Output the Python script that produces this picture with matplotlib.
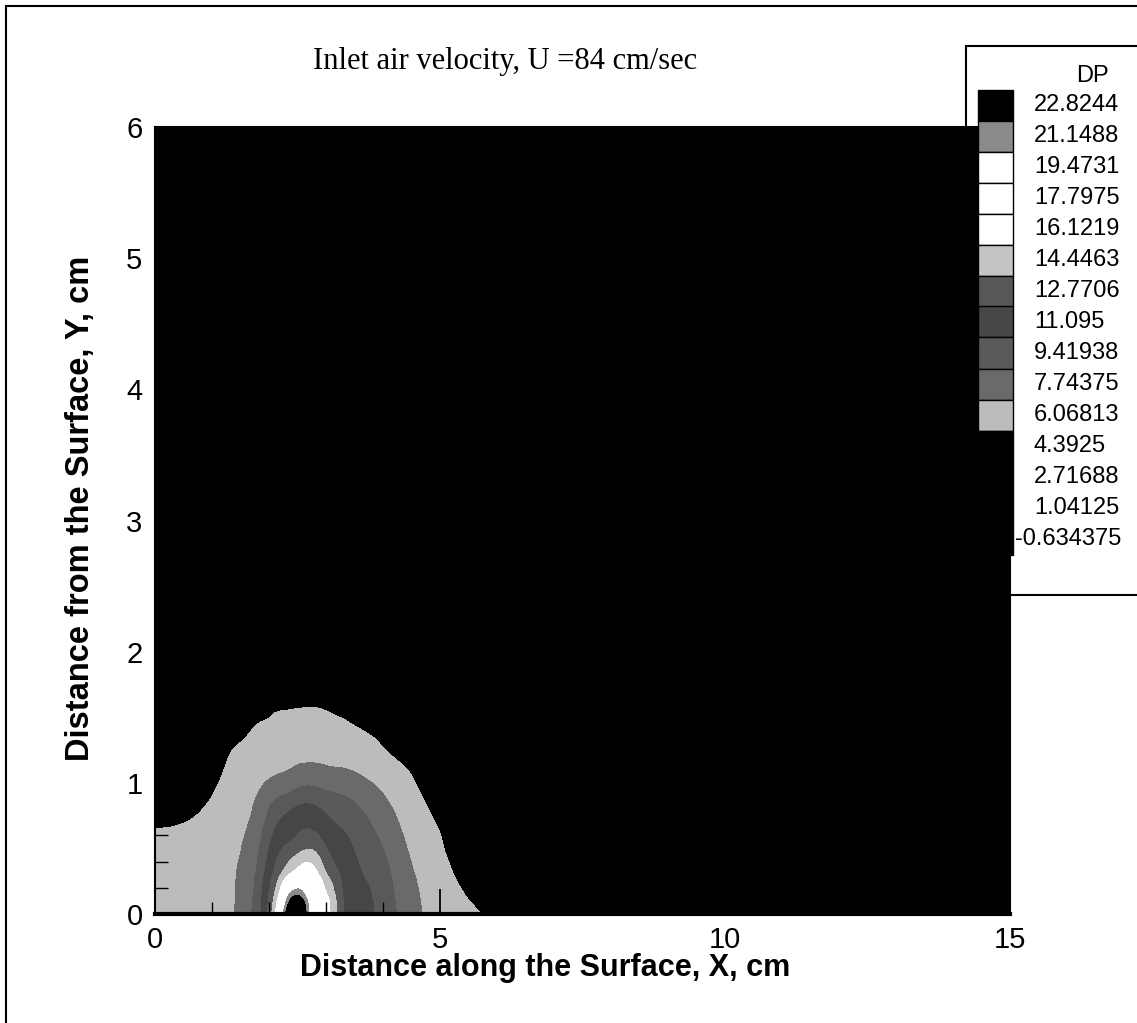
import numpy as np
import matplotlib
matplotlib.use("Agg")
import matplotlib.pyplot as plt
import matplotlib.tri as mtri
from matplotlib.patches import Rectangle
from matplotlib.lines import Line2D
from matplotlib.ticker import MultipleLocator

# ---------------- data ----------------
x_grid = [0.0, 0.5, 1.0, 1.25, 1.5, 1.75, 2.0, 2.25, 2.5, 2.75, 3.0, 3.25,
          3.5, 4.0, 4.5, 5.0, 5.5, 6.0, 8.0, 15.0]
y_grid = [0.0, 0.1, 0.2, 0.3, 0.4, 0.5, 0.6, 0.8, 1.0, 1.2, 1.4, 1.6, 1.8, 2.2, 6.0]

# DP values, one list per x column (bottom -> top, at y_grid)
dp_x0_00 = [5.6, 5.55, 5.45, 5.3, 5.1, 4.85, 4.55, 3.95, 3.5, 3.1, 2.7, 2.35, 2.05, 1.6, 0.0]
dp_x0_50 = [5.7, 5.65, 5.55, 5.4, 5.2, 4.95, 4.65, 4.1, 3.6, 3.2, 2.8, 2.45, 2.15, 1.7, 0.0]
dp_x1_00 = [5.8, 5.78, 5.75, 5.65, 5.5, 5.3, 5.1, 4.6, 4.1, 3.6, 3.2, 2.8, 2.45, 1.9, 0.0]
dp_x1_25 = [5.98, 5.95, 5.9, 5.85, 5.75, 5.6, 5.45, 5.1, 4.7, 4.25, 3.8, 3.3, 2.85, 2.2, 0.0]
dp_x1_50 = [6.3, 6.28, 6.25, 6.2, 6.12, 6.02, 5.9, 5.6, 5.2, 4.75, 4.1, 3.65, 3.15, 2.4, 0.0]
dp_x1_75 = [8.2, 8.0, 7.8, 7.55, 7.3, 7.0, 6.75, 6.2, 5.55, 5.0, 4.45, 3.85, 3.3, 2.5, 0.0]
dp_x2_00 = [11.5, 11.2, 10.8, 10.3, 9.8, 9.3, 8.8, 7.7, 6.2, 5.45, 4.65, 4.1, 3.5, 2.6, 0.0]
dp_x2_25 = [19.5, 17.5, 15.3, 13.2, 12.0, 11.1, 10.4, 8.9, 6.6, 5.6, 4.95, 4.2, 3.55, 2.65, 0.0]
dp_x2_50 = [26.0, 22.6, 19.0, 15.6, 13.6, 12.0, 11.1, 9.6, 7.2, 5.7, 5.0, 4.25, 3.6, 2.7, 0.0]
dp_x2_75 = [17.8, 17.3, 16.6, 15.6, 14.1, 12.6, 11.5, 9.7, 7.4, 5.8, 5.05, 4.3, 3.65, 2.75, 0.0]
dp_x3_00 = [15.3, 14.9, 14.1, 12.9, 11.9, 11.1, 10.4, 9.1, 7.1, 5.7, 4.95, 4.2, 3.6, 2.7, 0.0]
dp_x3_25 = [11.8, 11.6, 11.3, 11.0, 10.6, 10.2, 9.7, 8.6, 6.9, 5.6, 4.75, 4.05, 3.5, 2.6, 0.0]
dp_x3_50 = [10.4, 10.3, 10.1, 9.85, 9.6, 9.3, 8.9, 8.0, 6.6, 5.4, 4.5, 3.9, 3.35, 2.5, 0.0]
dp_x4_00 = [8.7, 8.6, 8.45, 8.25, 8.0, 7.7, 7.4, 6.6, 5.6, 4.6, 4.1, 3.6, 3.1, 2.35, 0.0]
dp_x4_50 = [6.7, 6.6, 6.45, 6.25, 6.0, 5.75, 5.5, 5.0, 4.5, 4.05, 3.65, 3.3, 2.9, 2.2, 0.0]
dp_x5_00 = [5.15, 5.07, 4.95, 4.8, 4.65, 4.5, 4.4, 4.05, 3.7, 3.4, 3.1, 2.8, 2.5, 2.0, 0.0]
dp_x5_50 = [4.55, 4.4, 4.25, 4.1, 3.95, 3.8, 3.65, 3.4, 3.15, 2.9, 2.7, 2.45, 2.25, 1.8, 0.0]
dp_x6_00 = [4.2, 4.1, 4.0, 3.9, 3.8, 3.65, 3.5, 3.25, 3.0, 2.8, 2.6, 2.4, 2.2, 1.75, 0.0]
dp_x8_00 = [3.2, 3.15, 3.1, 3.0, 2.95, 2.85, 2.8, 2.65, 2.5, 2.35, 2.2, 2.05, 1.9, 1.55, 0.0]
dp_x15_0 = [1.6, 1.6, 1.55, 1.5, 1.5, 1.45, 1.4, 1.35, 1.3, 1.2, 1.15, 1.1, 1.0, 0.8, -0.3]

dp_columns = [dp_x0_00, dp_x0_50, dp_x1_00, dp_x1_25, dp_x1_50, dp_x1_75,
              dp_x2_00, dp_x2_25, dp_x2_50, dp_x2_75, dp_x3_00, dp_x3_25,
              dp_x3_50, dp_x4_00, dp_x4_50, dp_x5_00, dp_x5_50, dp_x6_00,
              dp_x8_00, dp_x15_0]

# contour levels (legend values) and their labels
dp_levels = [-0.634375, 1.04125, 2.71688, 4.3925, 6.06813, 7.74375, 9.41938,
             11.095, 12.7706, 14.4463, 16.1219, 17.7975, 19.4731, 21.1488, 22.8244]
dp_labels = ["-0.634375", "1.04125", "2.71688", "4.3925", "6.06813", "7.74375",
             "9.41938", "11.095", "12.7706", "14.4463", "16.1219", "17.7975",
             "19.4731", "21.1488", "22.8244"]
# colour of each level (ascending), as shown by the legend patches
level_colors = ["#000000", "#000000", "#000000", "#000000", "#bcbcbc", "#6a6a6a",
                "#595959", "#464646", "#575757", "#c4c4c4", "#ffffff", "#ffffff",
                "#ffffff", "#8a8a8a", "#000000"]

x_ticks = [0, 5, 10, 15]
y_ticks = [0, 1, 2, 3, 4, 5, 6]

title_text = "Inlet air velocity, U =84 cm/sec"
x_label = "Distance along the Surface, X, cm"
y_label = "Distance from the Surface, Y, cm"
legend_title = "DP"

# ---------------- figure ----------------
W, H = 1137, 1023
fig = plt.figure(figsize=(W / 100, H / 100), dpi=100)
fig.patch.set_facecolor("white")


def fx(px):
    return px / W


def fy(py):
    return 1 - py / H


SANS = ["Liberation Sans", "DejaVu Sans"]

ax_l, ax_r, ax_t, ax_b = 155, 1010, 127, 914
ax = fig.add_axes([fx(ax_l), fy(ax_b), fx(ax_r) - fx(ax_l), fy(ax_t) - fy(ax_b)])

Z = np.array(dp_columns).T  # shape (ny, nx)
Xg, Yg = np.meshgrid(x_grid, y_grid)
tri = mtri.Triangulation(Xg.ravel(), Yg.ravel())
interp = mtri.CubicTriInterpolator(tri, Z.ravel(), kind="min_E")
refiner = mtri.UniformTriRefiner(tri)
tri_f, z_f = refiner.refine_field(Z.ravel(), triinterpolator=interp, subdiv=3)

# band between level i and i+1 takes the colour of level i+1;
# below the lowest and above the highest level -> black
fill_colors = [level_colors[0]] + level_colors[1:] + [level_colors[-1]]
cs = ax.tricontourf(tri_f, z_f, levels=dp_levels, colors=fill_colors, extend="both")
cs.set_edgecolor("face")
cs.set_linewidth(0.6)

ax.set_xlim(0, 15)
ax.set_ylim(0, 6)
ax.set_facecolor("black")
ax.set_xticks(x_ticks)
ax.set_yticks(y_ticks)
ax.xaxis.set_minor_locator(MultipleLocator(1))
ax.yaxis.set_minor_locator(MultipleLocator(0.2))
ax.tick_params(which="major", direction="in", length=18, width=1.3, color="black",
               labelsize=21, pad=9)
ax.tick_params(which="minor", direction="in", length=9, width=1.0, color="black")
for lab in ax.get_xticklabels() + ax.get_yticklabels():
    lab.set_family(SANS)
for s in ax.spines.values():
    s.set_color("black")
    s.set_linewidth(1.5)
ax.spines["bottom"].set_linewidth(3)

# axis titles
fig.text(fx(545), fy(968), x_label, ha="center", va="center", fontsize=22,
         fontweight="bold", family=SANS)
fig.text(fx(80), fy(508), y_label, ha="center", va="center", rotation=90,
         fontsize=23.5, fontweight="bold", family=SANS)

fig.text(fx(505), fy(62), title_text, ha="center", va="center", fontsize=22,
         family=["Liberation Serif", "DejaVu Serif"])

# outer frame lines
fig.add_artist(Line2D([fx(6), fx(6)], [fy(6), fy(H + 5)], color="black", lw=1.5))
fig.add_artist(Line2D([fx(6), fx(W + 5)], [fy(6), fy(6)], color="black", lw=1.5))

# legend box
fig.add_artist(Rectangle((fx(966), fy(595)), fx(W + 20) - fx(966), fy(46) - fy(595),
                         facecolor="none", edgecolor="black", lw=1.5, zorder=0.5))
fig.text(fx(1092), fy(76), legend_title, ha="center", va="center", fontsize=17,
         family=SANS)
step = 31
y0 = 105
for i, (lab, col) in enumerate(zip(dp_labels[::-1], level_colors[::-1])):
    yc = y0 + i * step
    fig.add_artist(Rectangle((fx(978), fy(yc + step / 2)), fx(1013) - fx(978),
                             fy(yc - step / 2) - fy(yc + step / 2),
                             facecolor=col, edgecolor="black", lw=1.0, zorder=3))
    xt = 1015 if lab.startswith("-") else 1034
    fig.text(fx(xt), fy(yc), lab, ha="left", va="center", fontsize=17,
             family=SANS, zorder=4)

fig.savefig("out.png", dpi=100, facecolor="white")
